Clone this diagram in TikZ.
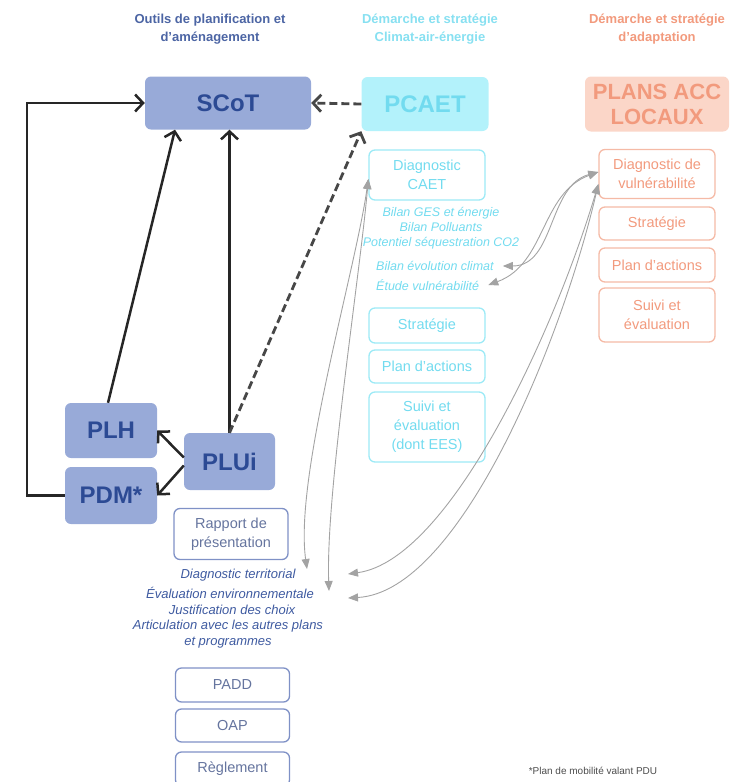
\documentclass[tikz,border=0pt]{standalone}
\usepackage{fontspec}
\setmainfont{Liberation Sans}
\usetikzlibrary{arrows.meta}
\definecolor{planblue}{HTML}{98AAD8}
\definecolor{planink}{HTML}{2C4A94}
\definecolor{planline}{HTML}{7F91C6}
\definecolor{planitalic}{HTML}{3E5AA0}
\definecolor{caetfill}{HTML}{B3F2FB}
\definecolor{caetline}{HTML}{9DEAF6}
\definecolor{caetink}{HTML}{72DBEF}
\definecolor{accfill}{HTML}{FBD6C8}
\definecolor{accline}{HTML}{F5BAA6}
\definecolor{accink}{HTML}{F29A7D}
\definecolor{linkgrey}{HTML}{A3A3A3}
\begin{document}
\begin{tikzpicture}[x=1pt,y=1pt,
  heading/.style={font=\bfseries\fontsize{13}{18}\selectfont,align=center},
  bigbox/.style={rounded corners=6pt,inner sep=0pt,align=center,font=\bfseries\fontsize{24}{25}\selectfont},
  stepbox/.style={draw,line width=1.3pt,rounded corners=6pt,inner sep=0pt,align=center,minimum width=116pt,font=\fontsize{14.5}{19}\selectfont},
  caetbox/.style={stepbox,draw=caetline,text=caetink},
  accbox/.style={stepbox,draw=accline,text=accink},
  plubox/.style={stepbox,draw=planline,text=planline!80!black,minimum width=114pt},
  caetnote/.style={text=caetink,align=center,inner sep=1pt,font=\itshape\fontsize{12.5}{15}\selectfont},
  plunote/.style={text=planitalic,align=center,inner sep=1pt,font=\itshape\fontsize{13}{16}\selectfont},
  bigarrow/.style={line width=2.5pt,draw=black!85,-{Straight Barb[length=8pt,width=17pt]}},
  dasharrow/.style={bigarrow,line width=2.8pt,draw=black!72,dash pattern=on 8pt off 4pt},
  greylink/.style={line width=0.9pt,draw=linkgrey,{Triangle[length=10pt,width=8pt]}-{Triangle[length=10pt,width=8pt]}}]
\useasboundingbox (0,0) rectangle (731,-782);
\node[heading,text=planink!85] (hplan) at (210,-29) {Outils de planification et\\d'aménagement};
\node[heading,text=caetink!85] (hcaet) at (430,-29) {Démarche et stratégie\\Climat-air-énergie};
\node[heading,text=accink] (hacc) at (657,-29) {Démarche et stratégie\\d'adaptation};

\node[bigbox,fill=planblue,text=planink,minimum width=166pt,minimum height=53pt] (scot) at (228,-103) {SCoT};
\node[bigbox,fill=caetfill,text=caetink,minimum width=127pt,minimum height=54pt] (pcaet) at (425,-104) {PCAET};
\node[bigbox,fill=accfill,text=accink,minimum width=144pt,minimum height=55pt,font=\bfseries\fontsize{22}{25}\selectfont] (plans) at (657,-104) {PLANS ACC\\LOCAUX};

\node[caetbox,minimum height=50pt] (diagcaet) at (427,-175) {Diagnostic\\CAET};
\node[caetnote] (ges) at (441,-228) {Bilan GES et énergie\\Bilan Polluants\\Potentiel séquestration CO2};
\node[caetnote,anchor=west] (bilan) at (375,-266) {Bilan évolution climat};
\node[caetnote,anchor=west] (etude) at (375,-285) {Étude vulnérabilité};
\node[caetbox,minimum height=35pt] (stratcaet) at (427,-325.5) {Stratégie};
\node[caetbox,minimum height=33pt] (plancaet) at (427,-366.5) {Plan d'actions};
\node[caetbox,minimum height=70pt] (suivicaet) at (427,-427) {Suivi et\\évaluation\\(dont EES)};

\node[accbox,minimum height=49pt] (diagvul) at (657,-174) {Diagnostic de\\vulnérabilité};
\node[accbox,minimum height=33pt] (stratacc) at (657,-223.5) {Stratégie};
\node[accbox,minimum height=34pt] (planacc) at (657,-265) {Plan d'actions};
\node[accbox,minimum height=54pt] (suiviacc) at (657,-315) {Suivi et\\évaluation};

\node[bigbox,fill=planblue,text=planink,minimum width=92pt,minimum height=55pt] (plh) at (111,-430.5) {PLH};
\node[bigbox,fill=planblue,text=planink,minimum width=92pt,minimum height=57pt] (pdm) at (111,-495.5) {PDM*};
\node[bigbox,fill=planblue,text=planink,minimum width=91pt,minimum height=57pt] (plui) at (229.5,-461.5) {PLUi};

\node[plubox,minimum height=51pt] (rapport) at (231,-534) {Rapport de\\présentation};
\node[plunote] (diagterr) at (238,-575) {Diagnostic territorial};
\node[plunote] (evalenv) at (230,-593) {Évaluation environnementale};
\node[plunote] (justif) at (232,-610) {Justification des choix};
\node[plunote] (articul) at (228,-634) {Articulation avec les autres plans\\et programmes};
\node[plubox,minimum height=34pt] (padd) at (232.5,-685) {PADD};
\node[plubox,minimum height=33pt] (oap) at (232.5,-725.5) {OAP};
\node[plubox,minimum height=34pt] (regl) at (232.5,-769) {Règlement};
\node[text=black!70,font=\fontsize{10}{11}\selectfont] (pdu) at (593,-771) {*Plan de mobilité valant PDU};

\draw[bigarrow] (pdm.west) -- ++(-38,0) |- (scot.west);
\draw[bigarrow] ([xshift=-3pt]plh.north) -- ([xshift=-53pt]scot.south);
\draw[bigarrow] (plui.north) -- (plui.north |- scot.south);
\draw[bigarrow] ([yshift=4pt]plui.west) -- (plh.east);
\draw[bigarrow] ([yshift=-4pt]plui.west) -- (pdm.east);
\draw[dasharrow] (plui.north) -- (pcaet.south west);
\draw[dasharrow] (pcaet.west) -- (scot.east);

\coordinate (dta) at (307,-569);
\coordinate (eea) at (329,-591);
\coordinate (dtb) at (348,-574);
\coordinate (eeb) at (348,-598);
\draw[greylink] ([yshift=-4pt]diagcaet.west) to[out=262,in=98,looseness=0.6] (dta);
\draw[greylink] ([yshift=-4pt]diagcaet.west) to[out=265,in=92,looseness=0.6] (eea);
\draw[greylink] ([yshift=2pt]diagvul.west) to[out=195,in=0] ([xshift=8pt]bilan.east);
\draw[greylink] ([yshift=2pt]diagvul.west) to[out=200,in=20] ([xshift=8pt]etude.east);
\draw[greylink] ([yshift=-10pt]diagvul.west) .. controls (555,-330) and (450,-560) .. (dtb);
\draw[greylink] ([yshift=-10pt]diagvul.west) .. controls (562,-340) and (460,-592) .. (eeb);
\end{tikzpicture}
\end{document}
